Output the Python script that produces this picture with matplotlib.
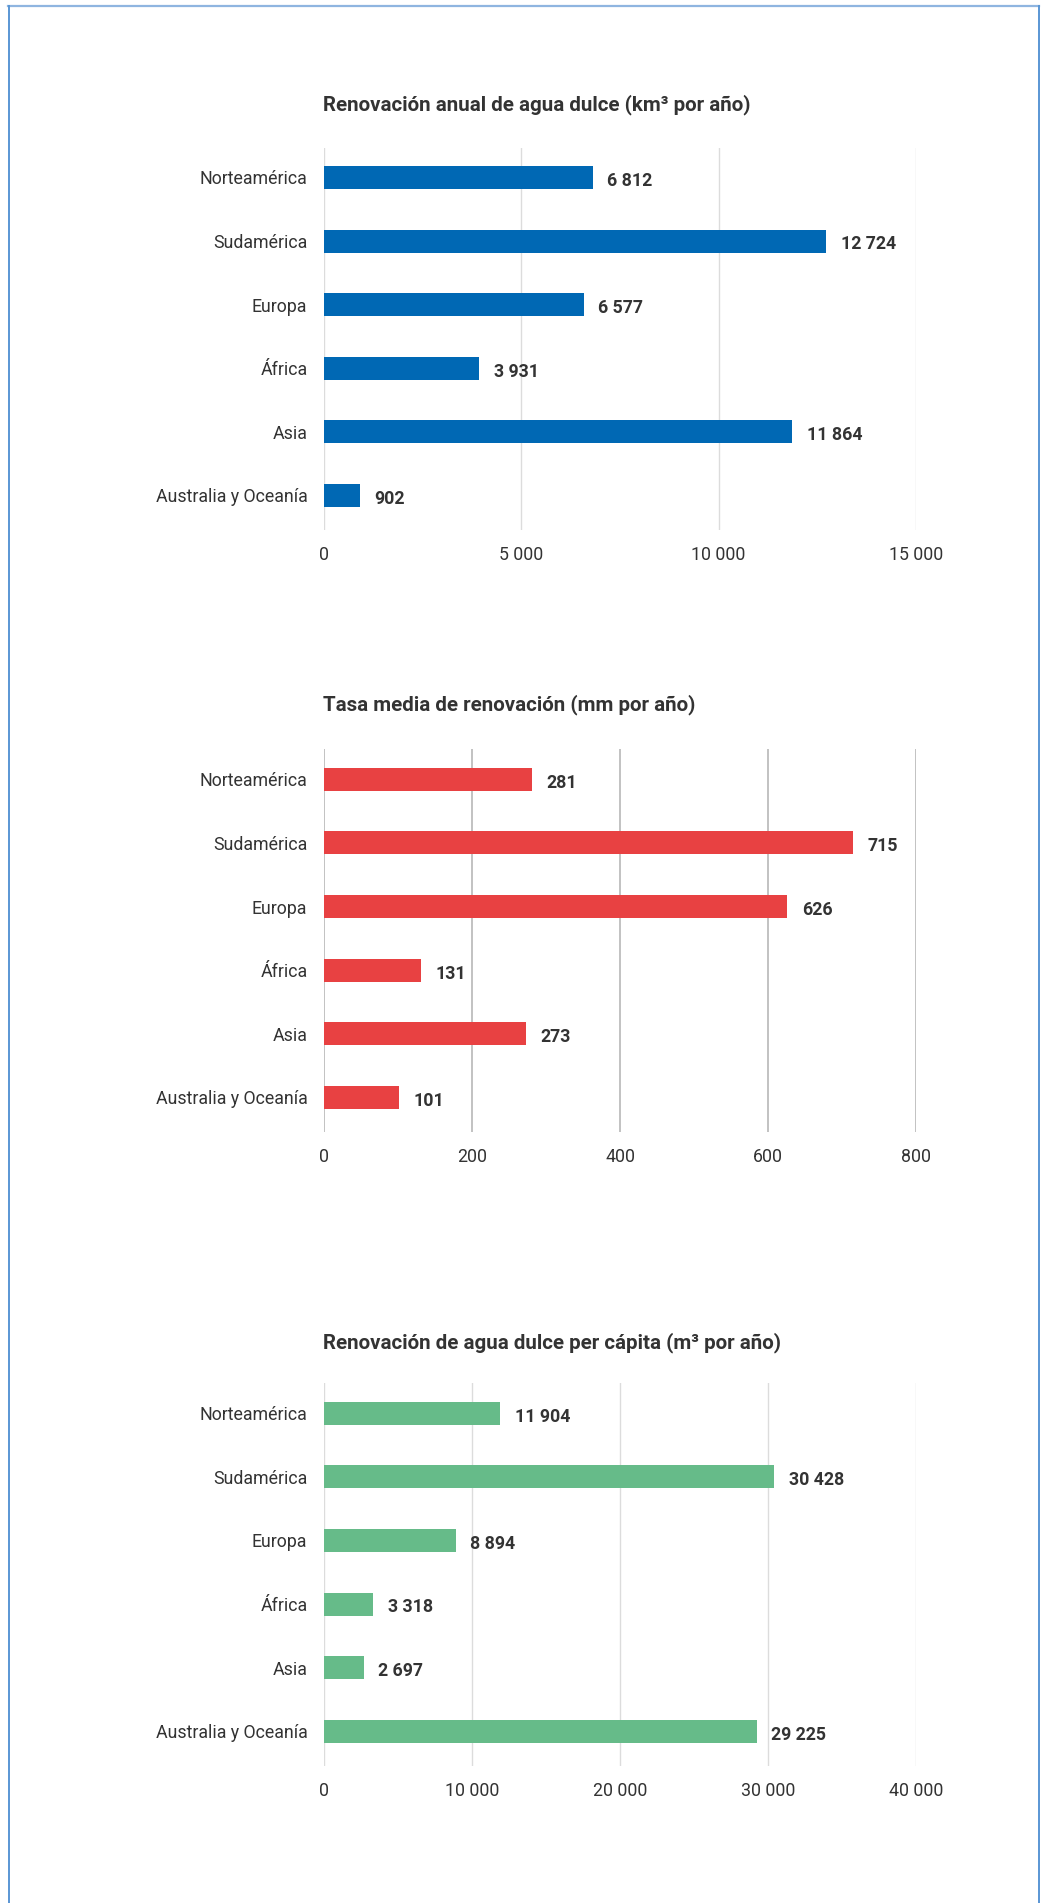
import matplotlib
matplotlib.use("Agg")
import matplotlib.pyplot as plt
from matplotlib.lines import Line2D

plt.rcParams['font.family'] = ['Roboto', 'DejaVu Sans']

# Data
regions = ['Norteamérica', 'Sudamérica', 'Europa', 'África', 'Asia', 'Australia y Oceanía']

renov_km3 = [6812, 12724, 6577, 3931, 11864, 902]
tasa_mm = [281, 715, 626, 131, 273, 101]
per_capita_m3 = [11904, 30428, 8894, 3318, 2697, 29225]

titles = ['Renovación anual de agua dulce (km³ por año)',
          'Tasa media de renovación (mm por año)',
          'Renovación de agua dulce per cápita (m³ por año)']
ticks_1 = [0, 5000, 10000, 15000]
ticks_2 = [0, 200, 400, 600, 800]
ticks_3 = [0, 10000, 20000, 30000, 40000]
colors = ['#0068b4', '#e84142', '#66bb89']
grid_colors = ['#dcdcdc', '#bdbdbd', '#dcdcdc']

W, H = 1044, 1903
fig = plt.figure(figsize=(W / 100, H / 100), dpi=100)
text_color = '#333333'


def fmt(v):
    return f'{v:,}'.replace(',', ' ')


# panel placement in pixels: (top, bottom, title y)
panels = [(147.6, 529.8, 105), (749.4, 1131.8, 705), (1383.4, 1765.6, 1343)]
left_px, right_px = 324, 916

series = [renov_km3, tasa_mm, per_capita_m3]
tick_sets = [ticks_1, ticks_2, ticks_3]

for i, (top, bot, ty) in enumerate(panels):
    ax = fig.add_axes([left_px / W, 1 - bot / H, (right_px - left_px) / W, (bot - top) / H])
    vals = series[i]
    ticks = tick_sets[i]
    y = list(range(len(regions)))
    ax.barh(y, vals, height=0.36, color=colors[i], zorder=3)
    ax.set_xlim(ticks[0], ticks[-1])
    ax.set_ylim(5.54, -0.47)
    ax.set_xticks(ticks)
    ax.set_xticklabels([fmt(t) for t in ticks])
    ax.set_yticks(y)
    ax.set_yticklabels(regions)
    ax.tick_params(axis='both', length=0, labelsize=12.8, colors=text_color)
    ax.tick_params(axis='x', pad=12)
    ax.tick_params(axis='y', pad=12)
    for s in ax.spines.values():
        s.set_visible(False)
    lw = 1.3 if i == 1 else 1.0
    for t in ticks:
        ax.axvline(t, color=grid_colors[i], lw=lw, zorder=1)
    for yy, v in zip(y, vals):
        ax.annotate(fmt(v), (v, yy), xytext=(10.5, -2.4), textcoords='offset points',
                    ha='left', va='center', fontsize=12.8, fontweight='bold',
                    color=text_color)
    fig.text(323 / W, 1 - ty / H, titles[i], ha='left', va='center',
             fontsize=14.8, fontweight='bold', color=text_color)

# frame around the graphic
fig.add_artist(Line2D([8 / W, 1039 / W], [1 - 6 / H, 1 - 6 / H], color='#8fb5e0', lw=1.6))
fig.add_artist(Line2D([8.8 / W, 8.8 / W], [1 - 6 / H, 0], color='#5a96d4', lw=1.4))
fig.add_artist(Line2D([1039 / W, 1039 / W], [1 - 6 / H, 0], color='#5a96d4', lw=1.4))

fig.savefig('out.png', dpi=100)
